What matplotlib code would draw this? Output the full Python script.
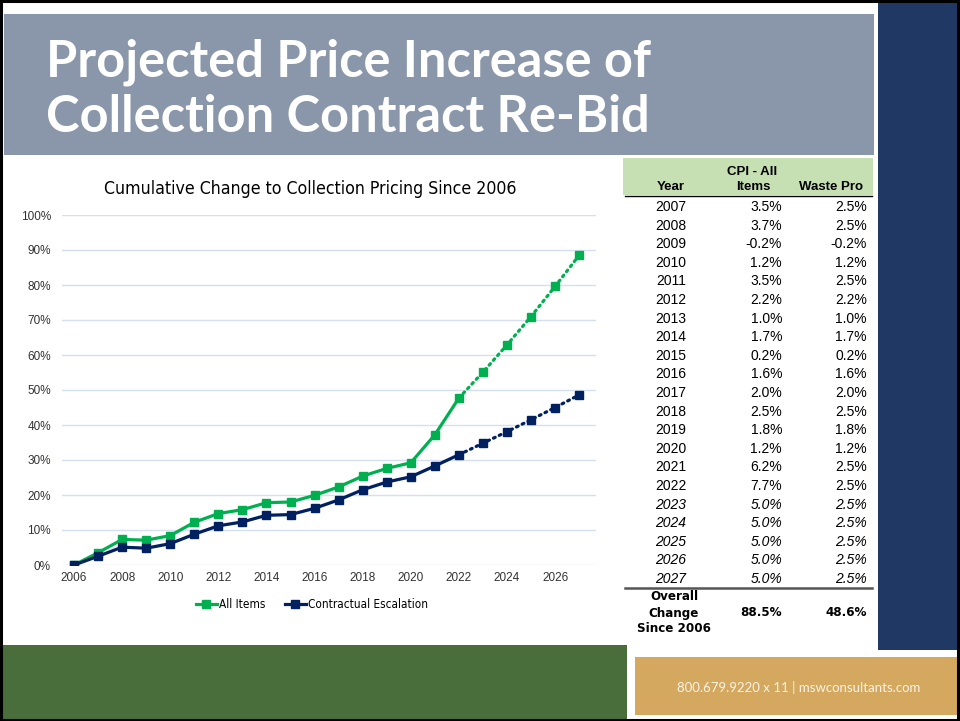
import matplotlib
matplotlib.use("Agg")
import matplotlib.pyplot as plt
from matplotlib.patches import Rectangle
from matplotlib.lines import Line2D
from matplotlib.ticker import FuncFormatter
from matplotlib import font_manager as fm

# ---- data ----
years = list(range(2006, 2028))
all_items = [0.0, 3.5, 7.3, 7.1, 8.4, 12.2, 14.7, 15.8, 17.8, 18.0, 19.9, 22.3,
             25.4, 27.6, 29.2, 37.2, 47.7, 55.1, 62.9, 71.0, 79.6, 88.5]
contractual = [0.0, 2.5, 5.1, 4.8, 6.1, 8.8, 11.2, 12.3, 14.2, 14.4, 16.2, 18.6,
               21.5, 23.7, 25.2, 28.3, 31.5, 34.8, 38.1, 41.5, 45.0, 48.6]
last_actual_year = 2022

table_years = [str(y) for y in range(2007, 2028)]
cpi_col = ["3.5%", "3.7%", "-0.2%", "1.2%", "3.5%", "2.2%", "1.0%", "1.7%", "0.2%",
           "1.6%", "2.0%", "2.5%", "1.8%", "1.2%", "6.2%", "7.7%", "5.0%", "5.0%",
           "5.0%", "5.0%", "5.0%"]
waste_col = ["2.5%", "2.5%", "-0.2%", "1.2%", "2.5%", "2.2%", "1.0%", "1.7%", "0.2%",
             "1.6%", "2.0%", "2.5%", "1.8%", "1.2%", "2.5%", "2.5%", "2.5%", "2.5%",
             "2.5%", "2.5%", "2.5%"]
overall_cpi = "88.5%"
overall_waste = "48.6%"

GREEN = "#00B050"
NAVY = "#002060"

W, H = 960, 721
fig = plt.figure(figsize=(9.6, 7.21), dpi=100)
fig.patch.set_facecolor("white")

def fx(px):
    return px / W

def fy(py):
    return 1 - py / H

def rect(x0, y0, x1, y1, color, z=0):
    fig.patches.append(Rectangle((fx(x0), fy(y1)), fx(x1) - fx(x0), fy(y0) - fy(y1),
                                 transform=fig.transFigure, facecolor=color,
                                 edgecolor="none", zorder=z))

# background shapes
rect(878, 0, 960, 650, "#1F3864")
rect(4, 14, 874, 155, "#8A96A9")
rect(0, 645, 627, 721, "#4A6E3B")
rect(635, 657, 960, 715, "#D4A95F")
rect(623, 158, 873, 195, "#C6E0B4")
# outer black border
fig.patches.append(Rectangle((0.001, 0.002), 0.997, 0.996, transform=fig.transFigure,
                             facecolor="none", edgecolor="black", linewidth=2.2, zorder=5))

# title
fig.text(fx(46), fy(62), "Projected Price Increase of", color="white", fontsize=36.4,
         fontweight="bold", family="Lato", va="center", ha="left")
fig.text(fx(46), fy(118), "Collection Contract Re-Bid", color="white", fontsize=36.4,
         fontweight="bold", family="Lato", va="center", ha="left")

# footer text
fig.text(fx(799), fy(688), "800.679.9220 x 11 | mswconsultants.com", color="#FBF3E4",
         fontsize=9.5, family="Lato", ha="center", va="center")

# ---- chart ----
ax = fig.add_axes([fx(62), fy(565), fx(596) - fx(62), fy(215) - fy(565)])
ax.set_facecolor("white")
ax.set_xlim(2005.5, 2027.7)
ax.set_ylim(0, 100)
ax.set_yticks(range(0, 101, 10))
ax.set_xticks(range(2006, 2027, 2))
ax.yaxis.set_major_formatter(FuncFormatter(lambda v, p: f"{v:.0f}%"))
ax.grid(axis="y", color="#D6DFEF", linewidth=1.0)
ax.set_axisbelow(True)
for s in ax.spines.values():
    s.set_visible(False)
ax.tick_params(axis="both", length=0, colors="#333333")
ax.tick_params(axis="y", pad=8)
ax.tick_params(axis="x", pad=5)
for lab in ax.get_xticklabels() + ax.get_yticklabels():
    lab.set_family("Liberation Sans")
    lab.set_fontsize(8.5)

k = years.index(last_actual_year)
for vals, col in [(all_items, GREEN), (contractual, NAVY)]:
    ax.plot(years[:k + 1], vals[:k + 1], color=col, lw=2.3, marker="s", ms=5.5, zorder=3)
    ax.plot(years[k:], vals[k:], color=col, lw=2.3, ls=(0, (0.6, 1.4)), marker="s",
            ms=5.5, markevery=list(range(1, len(years) - k)), zorder=3,
            dash_capstyle="round")

fig.text(fx(310), fy(189), "Cumulative Change to Collection Pricing Since 2006",
         fontsize=12.7, family="DejaVu Sans", stretch="condensed", ha="center",
         va="center", color="black")

handles = [Line2D([], [], color=GREEN, lw=2.3, marker="s", ms=5.5),
           Line2D([], [], color=NAVY, lw=2.3, marker="s", ms=5.5)]
fig.legend(handles, ["All Items", "Contractual Escalation"], loc="center",
           bbox_to_anchor=(fx(312), fy(605)), ncol=2, frameon=False,
           prop=fm.FontProperties(family="DejaVu Sans", stretch="condensed", size=8.5),
           handlelength=1.8, handletextpad=0.2, columnspacing=1.6)

# ---- table ----
tfont = {"family": "Liberation Sans", "size": 10}
hfont = {"family": "Liberation Sans", "size": 9.5, "fontweight": "bold"}
fig.text(fx(752), fy(172), "CPI - All", ha="center", va="center", **hfont)
fig.text(fx(753), fy(187), "Items", ha="center", va="center", **hfont)
fig.text(fx(671), fy(187), "Year", ha="center", va="center", **hfont)
fig.text(fx(863), fy(187), "Waste Pro", ha="right", va="center", **hfont)
fig.add_artist(Line2D([fx(625), fx(872)], [fy(196), fy(196)], color="black", lw=1.0))

row0, dy = 207, 18.6
for i, (yr, c, w) in enumerate(zip(table_years, cpi_col, waste_col)):
    y = row0 + i * dy
    style = "italic" if int(yr) > last_actual_year else "normal"
    fig.text(fx(671), fy(y), yr, ha="center", va="center", style=style, **tfont)
    fig.text(fx(782), fy(y), c, ha="right", va="center", style=style, **tfont)
    fig.text(fx(867), fy(y), w, ha="right", va="center", style=style, **tfont)
fig.add_artist(Line2D([fx(625), fx(872)], [fy(588), fy(588)], color="#555555", lw=1.8))

bprop = fm.FontProperties(family="DejaVu Sans", stretch="condensed", weight="bold", size=9.5)
for j, txt in enumerate(["Overall", "Change", "Since 2006"]):
    fig.text(fx(674), fy(597 + j * 16), txt, ha="center", va="center", fontproperties=bprop)
fig.text(fx(782), fy(613), overall_cpi, ha="right", va="center", fontproperties=bprop)
fig.text(fx(867), fy(613), overall_waste, ha="right", va="center", fontproperties=bprop)

fig.savefig("out.png", dpi=100, facecolor=fig.get_facecolor())
